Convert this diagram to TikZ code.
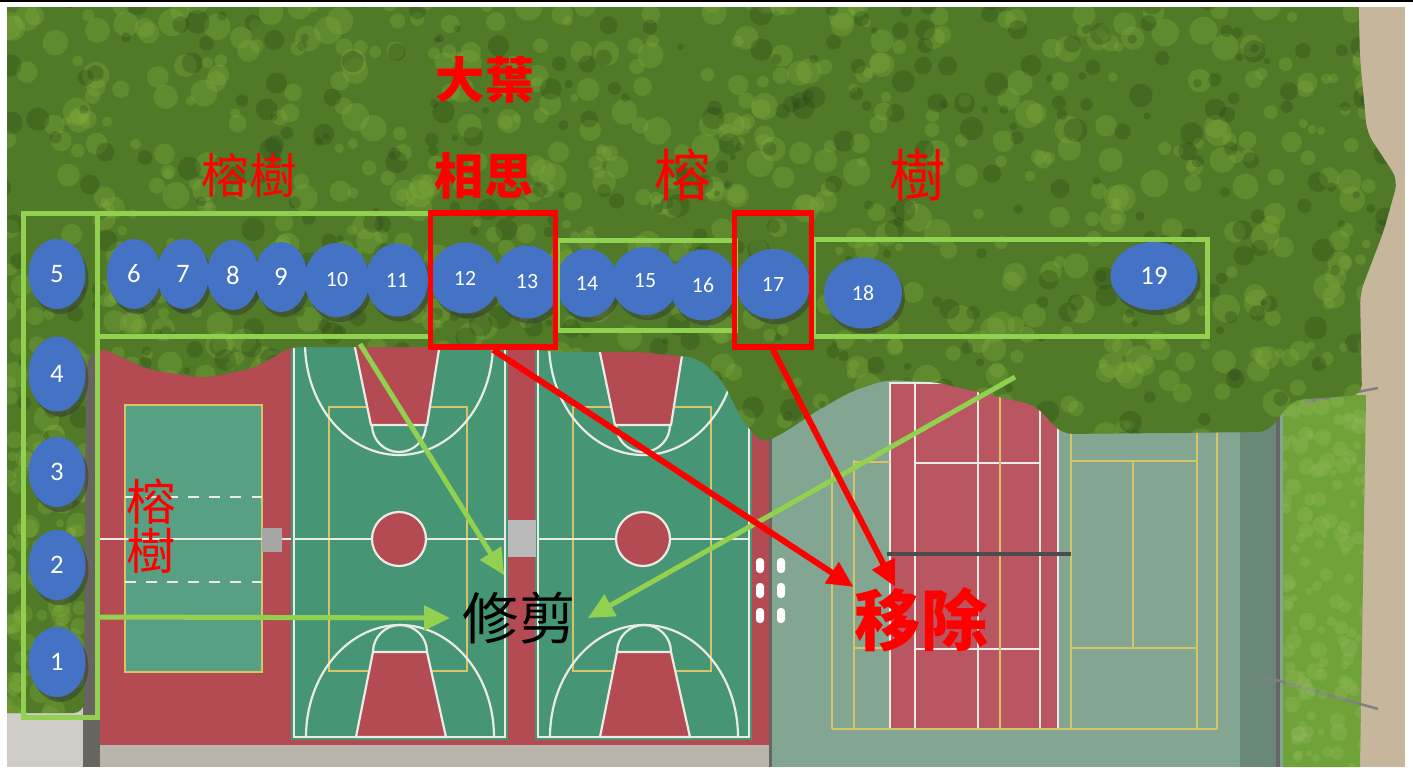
\documentclass[tikz,border=0pt]{standalone}
\usepackage{fontspec}
\newfontfamily\cjk{Noto Sans CJK TC}
\newfontfamily\numfont{Carlito}
\usetikzlibrary{arrows.meta,shapes.geometric,shadows}

\definecolor{treeblue}{HTML}{4472C4}
\definecolor{boxgreen}{HTML}{92D050}
\definecolor{boxred}{HTML}{FF0000}
\definecolor{leaf}{RGB}{80,122,40}
\definecolor{leaflight}{RGB}{132,176,62}
\definecolor{leafdark}{RGB}{38,66,22}
\definecolor{courtred}{RGB}{180,74,82}
\definecolor{courtgreen}{RGB}{70,150,118}
\definecolor{tennisground}{RGB}{130,166,146}
\definecolor{tennisred}{RGB}{186,86,98}
\definecolor{concrete}{RGB}{186,181,172}
\definecolor{pathgray}{RGB}{104,100,96}
\definecolor{sand}{RGB}{198,182,156}
\definecolor{hedge}{RGB}{112,162,58}
\definecolor{linewhite}{RGB}{235,235,230}
\definecolor{lineyellow}{RGB}{214,196,104}

\begin{document}
\begin{tikzpicture}[
x=0.1mm, y=-0.1mm,
treemark/.style={ellipse, fill=treeblue, text=white, inner sep=0pt,
  font=\numfont\fontsize{7.6}{8}\selectfont,
  drop shadow={shadow xshift=0.3mm, shadow yshift=-0.5mm, opacity=0.45, fill=black!80}},
twodigit/.style={font=\numfont\fontsize{6.2}{7}\selectfont},
greenbox/.style={draw=boxgreen, line width=0.5mm},
redbox/.style={draw=boxred, line width=0.55mm, inner sep=0pt},
prunearrow/.style={->, >={Triangle[length=2.6mm,width=2.4mm]}, draw=boxgreen, line width=0.5mm},
cutarrow/.style={->, >={Triangle[length=2.6mm,width=2.4mm]}, draw=boxred, line width=0.6mm},
redtag/.style={text=boxred, inner sep=0pt, font=\cjk\fontsize{#1}{#1}\selectfont},
redbold/.style={text=boxred, inner sep=0pt, font=\cjk\bfseries\fontsize{#1}{#1}\selectfont},
courtline/.style={draw=linewhite, line width=0.22mm},
yellowline/.style={draw=lineyellow, line width=0.15mm}
]
\useasboundingbox (0,0) rectangle (1413,767);
\fill[white] (0,0) rectangle (1413,767);
\fill[black] (0,0) rectangle (1413,2.5);

% Draw photo ground
\begin{scope}
\clip (7,7) rectangle (1405,767);
\fill[tennisground] (7,7) rectangle (1405,767);
\fill[sand] (1340,7) rectangle (1405,767);
\fill[hedge] (1283,395) -- (1366,395) -- (1360,767) -- (1283,767) -- cycle;
\fill[courtred] (100,338) rectangle (770,745);
\fill[concrete] (100,745) rectangle (770,767);
\fill[pathgray] (83,338) rectangle (100,767);
\fill[concrete!70!white] (7,705) rectangle (83,767);

% left court
\fill[courtgreen!90!white] (125,405) rectangle (262,672);
\draw[yellowline, line width=0.25mm] (125,405) rectangle (262,672);
\draw[linewhite, line width=0.15mm, dashed] (125,497) -- (262,497) (125,582) -- (262,582);
\draw[linewhite, line width=0.2mm] (100,539) -- (291,539);
\fill[gray!70] (262,528) rectangle (282,552);

% basketball courts
\foreach \dx in {0,244}{
\begin{scope}[shift={(\dx,0)}]
\fill[courtgreen] (291,340) rectangle (508,740);
\draw[courtline] (294,343) rectangle (505,737);
\draw[yellowline] (329,407) rectangle (467,671);
\draw[courtline] (294,539) -- (505,539);
\filldraw[courtline, fill=courtred] (354,343) -- (440,343) -- (427,425) -- (371,425) -- cycle;
\filldraw[courtline, fill=courtred] (356,737) -- (446,737) -- (427,652) -- (373,652) -- cycle;
\draw[courtline] (372,425) arc[start angle=180, end angle=0, radius=27];
\draw[courtline] (373,652) arc[start angle=180, end angle=360, radius=27];
\draw[courtline] (305,343) arc[start angle=180, end angle=0, x radius=94, y radius=112];
\draw[courtline] (306,737) arc[start angle=180, end angle=360, x radius=94, y radius=112];
\filldraw[courtline, fill=courtred] (399,539) circle[radius=27];
\end{scope}
}
\fill[gray!55!white] (508,520) rectangle (536,557);

% tennis courts
\draw[pathgray, line width=0.3mm] (770,380) -- (770,767);
\foreach \by in {558,583,608}
  \foreach \bx in {756,777}
    \fill[white, rounded corners=1pt] (\bx,\by) rectangle ++(8,15);
\fill[tennisred] (890,383) rectangle (1058,729);
\draw[courtline] (890,383) rectangle (1058,729);
\draw[courtline] (915,383) -- (915,729) (978,383) -- (978,729) (1040,383) -- (1040,729)
  (915,463) -- (1040,463) (915,649) -- (1040,649);
\draw[yellowline] (1000,383) -- (1000,729);
\draw[yellowline] (832,460) -- (832,729) (854,460) -- (854,729) (832,729) -- (1217,729)
  (854,462) -- (890,462) (854,648) -- (890,648);
\draw[yellowline] (1071,430) -- (1071,729) (1133,461) -- (1133,648) (1197,430) -- (1197,729)
  (1217,430) -- (1217,729) (1071,461) -- (1197,461) (1071,648) -- (1197,648);
\draw[black!70, line width=0.35mm] (887,554) -- (1071,554);
\fill[black!30!tennisground, opacity=0.6] (1240,420) rectangle (1278,767);
\draw[black!60, line width=0.4mm] (1278,410) -- (1278,767);
\draw[gray, line width=0.25mm] (1305,402) -- (1378,388) (1262,676) -- (1378,709);

% hedge texture
\pgfmathsetseed{7}
\begin{scope}
\clip (1283,395) -- (1366,395) -- (1360,767) -- (1283,767) -- cycle;
\foreach \i in {1,...,120}{
  \pgfmathsetmacro\px{1283+rnd*85}
  \pgfmathsetmacro\py{395+rnd*372}
  \pgfmathsetmacro\pr{3+rnd*6}
  \fill[leaflight!80!white, opacity=0.25] (\px,\py) circle[radius=\pr];
}
\end{scope}

% tree canopy
\def\canopy{(-20,-20) -- (1358,-20) -- (1360,60) -- (1367,133) -- (1398,180) -- (1383,233)
  -- (1360,293) -- (1362,395) -- (1292,400) -- (1268,432) -- (1062,434) -- (1035,405)
  -- (990,395) -- (935,382) -- (885,380) -- (850,392) -- (815,412) -- (785,432)
  -- (762,444) -- (742,420) -- (722,380) -- (698,358) -- (640,352) -- (560,352)
  -- (500,347) -- (290,347) -- (255,368) -- (205,378) -- (150,370) -- (110,352)
  -- (98,346) -- (86,362) -- (84,713) -- (-20,713) -- cycle}
\fill[leaf, rounded corners=3pt] \canopy;
\begin{scope}
\clip[rounded corners=3pt] \canopy;
\pgfmathsetseed{42}
\foreach \i in {1,...,700}{
  \pgfmathsetmacro\px{rnd*1410}
  \pgfmathsetmacro\py{rnd*450}
  \pgfmathsetmacro\pr{4+rnd*10}
  \fill[leaflight, opacity=0.3] (\px,\py) circle[radius=\pr];
}
\foreach \i in {1,...,420}{
  \pgfmathsetmacro\px{rnd*1410}
  \pgfmathsetmacro\py{rnd*450}
  \pgfmathsetmacro\pr{3+rnd*9}
  \fill[leafdark, opacity=0.28] (\px,\py) circle[radius=\pr];
}
\foreach \i in {1,...,90}{
  \pgfmathsetmacro\px{7+rnd*80}
  \pgfmathsetmacro\py{430+rnd*290}
  \pgfmathsetmacro\pr{4+rnd*8}
  \fill[leaflight, opacity=0.3] (\px,\py) circle[radius=\pr];
}
\end{scope}
\end{scope}

% trees
\foreach \n/\y/\h in {1/662/7.0, 2/565/7.0, 3/472/7.0, 4/374/7.5, 5/274/7.0}
  \node[treemark, minimum width=5.7mm, minimum height=\h mm] (t\n) at (57,\y) {\n};
\foreach \n/\x/\y/\w in {6/134/274/5.4, 7/183/274/5.2, 8/233/275/5.2, 9/281/277/5.3}
  \node[treemark, minimum width=\w mm, minimum height=7.0mm] (t\n) at (\x,\y) {\n};
\foreach \n/\x/\y/\w/\h in {10/337/280/6.5/7.4, 11/397/280/6.2/7.3, 12/465/278/7.0/7.1,
  13/527/282/6.7/7.3, 14/587/283/6.2/6.8, 15/645/281/6.7/6.8, 16/703/285/6.7/7.1,
  17/773/284/7.4/7.0, 18/863/293/7.8/7.1}
  \node[treemark, twodigit, minimum width=\w mm, minimum height=\h mm] (t\n) at (\x,\y) {\n};
\node[treemark, minimum width=8.7mm, minimum height=6.8mm] (t19) at (1154,276) {19};

% boxes
\draw[greenbox] (23,213) rectangle (97,717);
\draw[greenbox] (97,213) rectangle (430,336);
\draw[greenbox] (557,240) rectangle (735,330);
\draw[greenbox] (813,239) rectangle (1207,336);
\node[redbox, minimum width=12.5mm, minimum height=13.4mm] (cutbox1) at (493,280) {};
\node[redbox, minimum width=7.7mm, minimum height=13.4mm] (cutbox2) at (773,280) {};

% labels
\node[redtag=13.5] (banyan1) at (249,175) {榕樹};
\node[redbold=14] (bigleaf) at (485,80) {大葉};
\node[redbold=14] (acacia) at (484,176) {相思};
\node[redtag=16] (banyan2) at (683,175) {榕};
\node[redtag=16] (banyan3) at (918,175) {樹};
\node[redtag=14, align=center] (banyan4) at (151,526) {榕\\樹};
\node[inner xsep=1.2mm, inner ysep=1.6mm, font=\cjk\fontsize{16}{16}\selectfont] (prune) at (519,618) {修剪};
\node[redbold=19] (cut) at (921,620) {移除};

% arrows
\coordinate (p1) at (360,344);
\coordinate (p2) at (99,617);
\coordinate (p3) at (1015,377);
\draw[prunearrow] (p1) -- (prune.109);
\draw[prunearrow] (p2) -- (prune.west);
\draw[prunearrow] (p3) -- (prune.east);
\draw[cutarrow] (cutbox1.south) -- (cut.north west);
\draw[cutarrow] (cutbox2.south) -- (cut.128);
\end{tikzpicture}
\end{document}
